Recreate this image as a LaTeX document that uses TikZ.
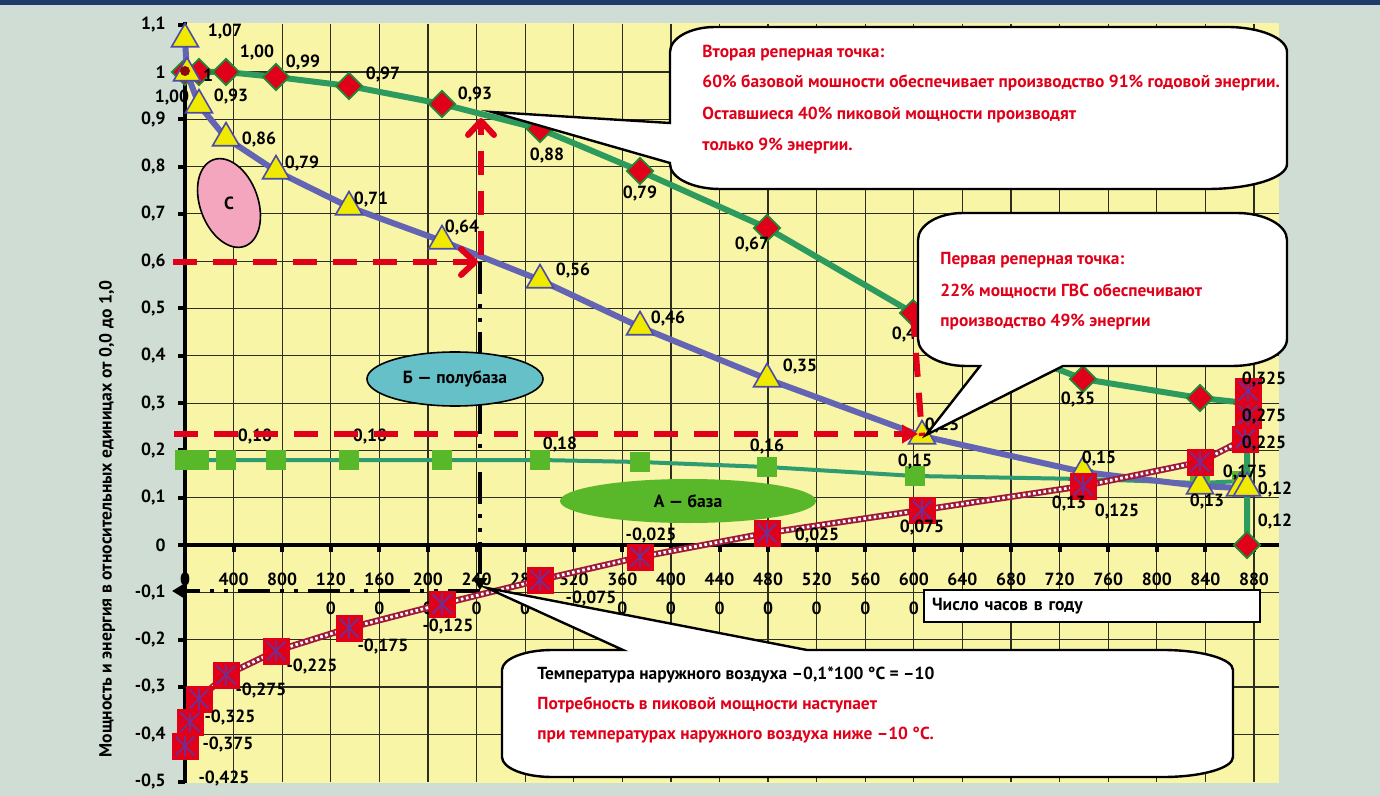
\documentclass[tikz,border=0pt]{standalone}
\usepackage{fontspec}
\setmainfont{PT Sans}
\usetikzlibrary{shapes.geometric,arrows.meta}

\definecolor{bgcol}{HTML}{D0DDD5}
\definecolor{barcol}{HTML}{1F3B6B}
\definecolor{plotcol}{HTML}{F8F5A6}
\definecolor{gridcol}{HTML}{2E2E20}
\definecolor{redmk}{HTML}{E0001A}
\definecolor{greenln}{HTML}{2E9B5E}
\definecolor{greenbd}{HTML}{1E8A3A}
\definecolor{bluln}{HTML}{6464B4}
\definecolor{triedge}{HTML}{4C4CA8}
\definecolor{yelmk}{HTML}{F0EA00}
\definecolor{sqgreen}{HTML}{58B82A}
\definecolor{sqline}{HTML}{2E9B70}
\definecolor{crimln}{HTML}{9E1A3A}
\definecolor{astcol}{HTML}{7A2A8A}
\definecolor{pinkel}{HTML}{F4A6BE}
\definecolor{tealel}{HTML}{66C0C8}
\definecolor{darkdot}{HTML}{8B0A0A}

\begin{document}
\begin{tikzpicture}[x=0.5pt,y=-0.5pt,
  every node/.style={font=\fontsize{8.8}{10}\selectfont\bfseries, inner sep=0pt},
  gridln/.style={draw=gridcol, line width=0.6pt},
  axisln/.style={black, line width=2pt},
  dmark/.style={diamond, draw=greenbd, fill=redmk, line width=0.9pt, minimum width=13.5pt, minimum height=13.5pt},
  tmark/.style={regular polygon, regular polygon sides=3, draw=triedge, fill=yelmk, line width=0.8pt, minimum size=15.5pt},
  smark/.style={rectangle, fill=sqgreen, minimum size=10pt},
  xmark/.style={rectangle, fill=redmk, minimum size=13.5pt,
    path picture={\draw[astcol, line width=0.9pt]
      ([yshift=-1.5pt]path picture bounding box.north) -- ([yshift=1.5pt]path picture bounding box.south)
      ([xshift=2pt,yshift=-2pt]path picture bounding box.north west) -- ([xshift=-2pt,yshift=2pt]path picture bounding box.south east)
      ([xshift=-2pt,yshift=-2pt]path picture bounding box.north east) -- ([xshift=2pt,yshift=2pt]path picture bounding box.south west);}},
  redarrow/.style={redmk, line width=3pt, dash pattern=on 12pt off 8pt},
  blackdd/.style={black, line width=2pt, dash pattern=on 16pt off 5pt on 2pt off 5pt on 2pt off 5pt},
  callout/.style={draw=black, fill=white, line width=1.2pt},
  redtext/.style={anchor=west, text=redmk, font=\fontsize{8.7}{10}\selectfont\bfseries},
  blktext/.style={anchor=west, font=\fontsize{8.7}{10}\selectfont\bfseries}]

\useasboundingbox (0,0) rectangle (1380,796);
\fill[bgcol] (0,0) rectangle (1380,796);
\fill[barcol] (0,0) rectangle (1380,5);
\fill[plotcol] (186,23) rectangle (1279,783);

% grid
\foreach \k in {1,...,22}
  \draw[gridln] ({185+\k*48.59},24) -- ({185+\k*48.59},782);
\foreach \i in {1,...,15}
  \draw[gridln] (185,{24.7+\i*47.3}) -- (1279,{24.7+\i*47.3});

% axes
\draw[axisln] (185,22) -- (185,783);
\foreach \i in {0,...,16}
  \draw[axisln] (178,{24.7+\i*47.3}) -- (185,{24.7+\i*47.3});
\draw[axisln] (178,545) -- (1279,545);
\foreach \k in {1,...,22}
  \draw[axisln] ({185+\k*48.59},545) -- ({185+\k*48.59},552);

\foreach \i/\t in {0/{1,1},1/1,2/{0,9},3/{0,8},4/{0,7},5/{0,6},6/{0,5},7/{0,4},8/{0,3},9/{0,2},10/{0,1},11/0,12/{-0,1},13/{-0,2},14/{-0,3},15/{-0,4},16/{-0,5}}
  \node[anchor=east] (yl\i) at (166,{24.7+\i*47.3}) {\t};
\foreach \k/\t in {0/0,1/400,2/800,3/120,4/160,5/200,6/240,7/280,8/320,9/360,10/400,11/440,12/480,13/520,14/560,15/600,16/640,17/680,18/720,19/760,20/800,21/840,22/880}
  \node (xl\k) at ({185+\k*48.59},579) {\t};
\foreach \k in {3,4,5,6,7,9,10,11,12,13,14,15}
  \node (zl\k) at ({185+\k*48.59},608) {0};

\node[rotate=90] (ytitle) at (107,519) {Мощность и  энергия  в относительных  единицах от 0,0  до 1,0};

% black guide lines
\coordinate (bv0) at (480,262);
\coordinate (bv1) at (480,590);
\coordinate (bh0) at (480,591);
\coordinate (bh1) at (172,591);
\draw[blackdd, -{Triangle[length=6pt,width=7pt]}] (bv0) -- (bv1);
\draw[blackdd, -{Triangle[length=7pt,width=8pt]}] (bh0) -- (bh1);

% series A (squares)
\foreach \n/\px/\py in {1/185/460,2/199/460,3/226/460,4/276/460,5/349/460,6/442/460,7/540/460,8/640/462,9/767/467,10/915/476,11/1083/479,12/1200/483,13/1242/481}
  \coordinate (s\n) at (\px,\py);
\draw[sqline, line width=2pt] (s1) \foreach \n in {2,...,13} {-- (s\n)};
\foreach \n in {1,...,13}
  \node[smark] (sm\n) at (s\n) {};

% power (diamonds)
\foreach \n/\px/\py in {1/185/72,2/199/72,3/226/72,4/276/77,5/349/86,6/442/104,7/540/129,8/640/171,9/767/228,10/913/313,11/1083/379,12/1200/398,13/1247/403,14/1247/545}
  \coordinate (d\n) at (\px,\py);
\draw[greenln, line width=3pt, line join=round] (d1) \foreach \n in {2,...,14} {-- (d\n)};
\foreach \n in {1,...,14}
  \node[dmark] (dm\n) at (d\n) {};

% energy (triangles)
\foreach \n/\px/\py in {1/185/39,2/187/73,3/199/105,4/226/138,5/276/171,6/349/207,7/442/241,8/540/280,9/640/327,10/767/379,11/922/436,12/1083/472,13/1200/486,14/1240/488,15/1247/488}
  \coordinate (t\n) at (\px,\py);
\draw[bluln, line width=3pt, line join=round] (t1) \foreach \n in {2,...,15} {-- (t\n)};
\foreach \n in {1,...,15}
  \node[tmark] (tm\n) at (t\n) {};

% temperature (crosses)
\foreach \n/\px/\py in {1/185/746,2/190/722,3/199/699,4/226/675,5/276/651,6/349/628,7/442/604,8/540/580,9/640/557,10/767/533,11/922/510,12/1083/486,13/1200/462,14/1245/439,15/1248/415,16/1248/391}
  \coordinate (x\n) at (\px,\py);
\draw[crimln, line width=3.2pt] (x1) \foreach \n in {2,...,16} {-- (x\n)};
\draw[white, line width=1.4pt, dash pattern=on 1.3pt off 1.3pt] (x1) \foreach \n in {2,...,16} {-- (x\n)};
\foreach \n in {1,...,16}
  \node[xmark] (xm\n) at (x\n) {};

\node[circle, fill=darkdot, minimum size=5pt] (dot) at (185,71) {};

% value labels
\foreach \n/\px/\py/\t in {1/208/75/1,2/257/53/{1,00},3/303/63/{0,99},4/383/75/{0,97},5/475/95/{0,93},6/547/156/{0,88},7/640/194/{0,79},8/752/245/{0,67},9/909/335/{0,49},10/1078/400/{0,35}}
  \node (dl\n) at (\px,\py) {\t};
\foreach \n/\px/\py/\t in {1/225/32/{1,07},2/172/98/{1,00},3/231/97/{0,93},4/259/140/{0,86},5/302/164/{0,79},6/371/200/{0,71},7/462/228/{0,64},8/573/271/{0,56},9/668/319/{0,46},10/800/367/{0,35},11/942/426/{0,23},12/1099/459/{0,15},13/1207/502/{0,13},14/1275/490/{0,12}}
  \node (tl\n) at (\px,\py) {\t};
\foreach \n/\px/\py/\t in {1/255/437/{0,18},2/370/437/{0,18},3/560/445/{0,18},4/767/447/{0,16},5/915/462/{0,15},6/1069/504/{0,13},7/1275/522/{0,12}}
  \node (sl\n) at (\px,\py) {\t};
\foreach \n/\px/\py/\t in {1/224/779/{-0,425},2/228/745/{-0,375},3/230/718/{-0,325},4/261/691/{-0,275},5/312/667/{-0,225},6/383/647/{-0,175},7/448/627/{-0,125},8/591/599/{-0,075},9/651/536/{-0,025},10/817/536/{0,025},11/922/528/{0,075},12/1117/512/{0,125},13/1245/473/{0,175},14/1264/444/{0,225},15/1264/417/{0,275},16/1264/380/{0,325}}
  \node (cl\n) at (\px,\py) {\t};

% red guide arrows
\coordinate (r1a) at (173,262);
\coordinate (r1b) at (478,262);
\coordinate (r2a) at (481,255);
\coordinate (r2b) at (481,118);
\coordinate (r3a) at (174,434);
\coordinate (r3b) at (918,434);
\draw[redarrow, -{Straight Barb[length=7pt,width=13pt,round]}] (r1a) -- (r1b);
\draw[redarrow, -{Straight Barb[length=7pt,width=13pt,round]}] (r2a) -- (r2b);
\draw[redarrow, -{Triangle[length=8pt,width=9pt]}] (r3a) -- (r3b);
\draw[redarrow] (d10) -- (t11);

% areas
\node[ellipse, draw=black, fill=pinkel, line width=0.8pt, minimum width=29pt, minimum height=46pt, rotate=20] (zoneC) at (229,203) {};
\node (zoneCt) at (zoneC.center) {С};
\node[ellipse, draw=black, fill=tealel, line width=0.8pt, minimum width=88pt, minimum height=27pt] (zoneB) at (455,379) {Б — полубаза};
\node[ellipse, fill=sqgreen, minimum width=128pt, minimum height=22pt] (zoneA) at (688,501) {А — база};

% callouts
\draw[callout] (670,163) -- (492,112) -- (670,123) -- (670,52)
  arc[start angle=180, end angle=270, x radius=45, y radius=25] -- (1227,27)
  arc[start angle=270, end angle=360, x radius=60, y radius=25] -- (1287,164)
  arc[start angle=0, end angle=90, x radius=80, y radius=25] -- (720,189)
  arc[start angle=90, end angle=180, x radius=50, y radius=25] -- cycle;
\node[redtext] (c1a) at (702,53) {Вторая реперная точка:};
\node[redtext] (c1b) at (702,83) {60\% базовой мошности обеспечивает производство 91\% годовой энергии.};
\node[redtext] (c1c) at (702,115) {Оставшиеся 40\% пиковой мощности производят};
\node[redtext] (c1d) at (702,146) {только 9\% энергии.};

\draw[callout] (918,240)
  arc[start angle=180, end angle=270, x radius=45, y radius=27] -- (1237,213)
  arc[start angle=270, end angle=360, x radius=50, y radius=27] -- (1287,339)
  arc[start angle=0, end angle=90, x radius=55, y radius=27] -- (1063,366) -- (926,435) -- (980,366) -- (966,366)
  arc[start angle=90, end angle=180, x radius=48, y radius=27] -- cycle;
\node[redtext] (c2a) at (940,260) {Первая  реперная точка:};
\node[redtext] (c2b) at (940,291) {22\% мощности ГВС обеспечивают};
\node[redtext] (c2c) at (940,322) {производство 49\% энергии};

\draw[callout] (623,650) -- (487,588) -- (807,650) -- (1163,650)
  arc[start angle=270, end angle=360, x radius=70, y radius=20] -- (1233,757)
  arc[start angle=0, end angle=90, x radius=70, y radius=20] -- (552,777)
  arc[start angle=90, end angle=180, x radius=50, y radius=20] -- (502,670)
  arc[start angle=180, end angle=270, x radius=50, y radius=20] -- cycle;
\node[blktext] (c3a) at (537,675) {Температура наружного воздуха –0,1*100 °С = –10};
\node[redtext] (c3b) at (537,705) {Потребность в пиковой мощности наступает};
\node[redtext] (c3c) at (537,735) {при температурах наружного воздуха  ниже  –10 °С.};

\node[draw=black, fill=white, line width=1.2pt, minimum height=16pt, text width=160pt, inner xsep=4pt, align=left] (hours) at (1092,606) {Число часов в году};
\end{tikzpicture}
\end{document}
